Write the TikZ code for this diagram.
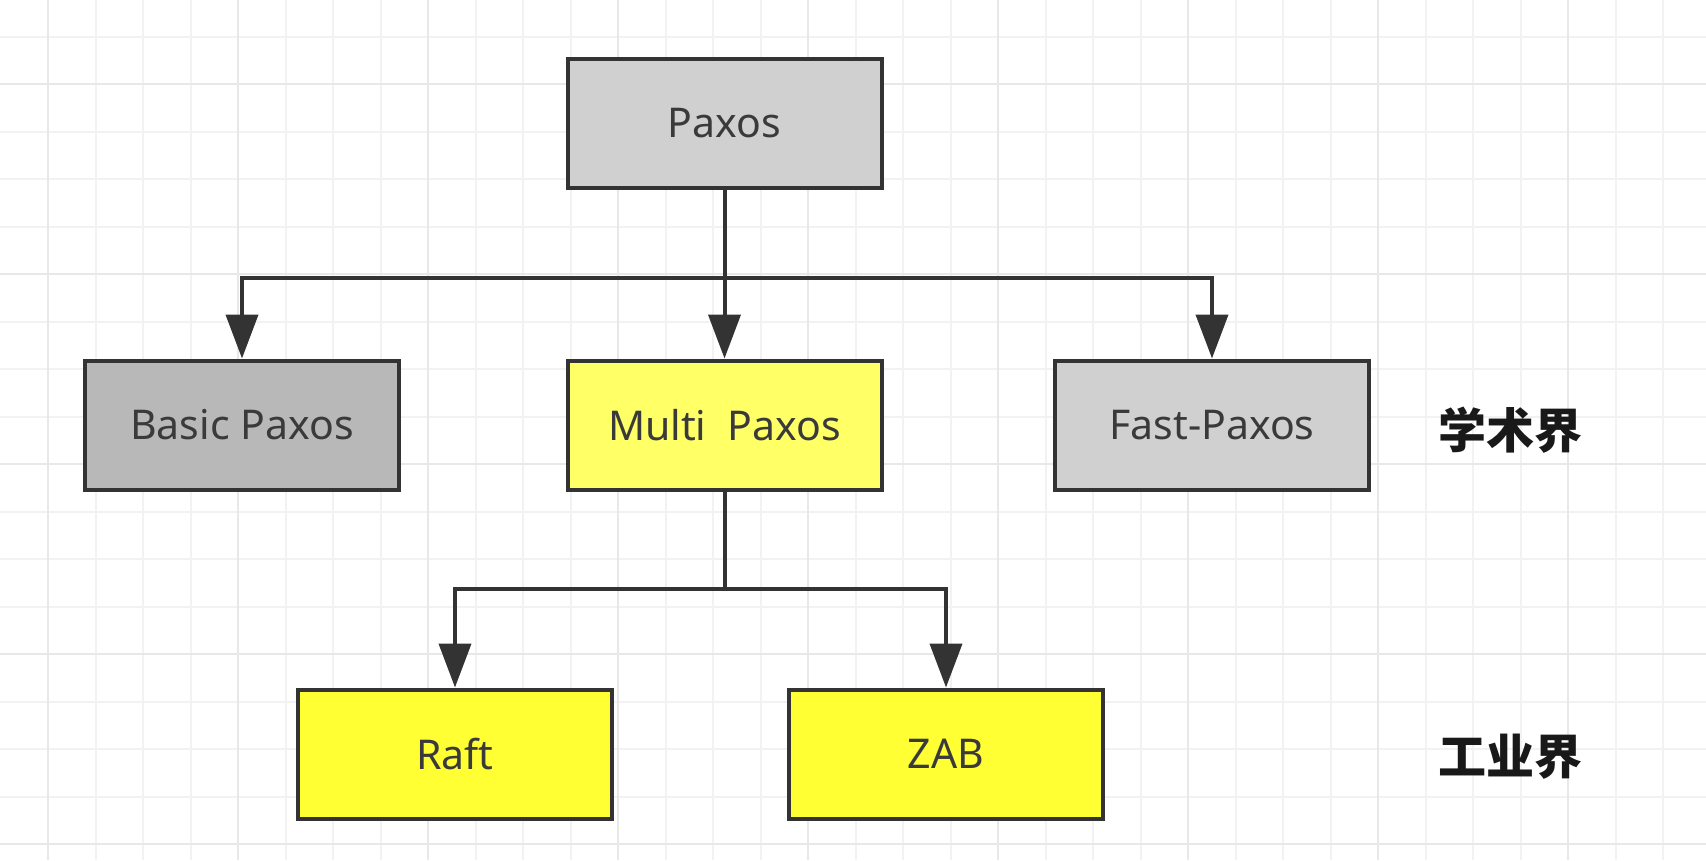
\documentclass[tikz,border=0pt]{standalone}
\usepackage{fontspec}
\setmainfont{Noto Sans}
\newfontfamily\cjk{Noto Sans CJK SC}
\usetikzlibrary{arrows.meta}
\definecolor{minorgrid}{HTML}{F2F2F2}
\definecolor{majorgrid}{HTML}{E8E8E8}
\definecolor{edge}{HTML}{333333}
\definecolor{txt}{HTML}{3A3A3A}
\definecolor{grayA}{HTML}{D0D0D0}
\definecolor{grayB}{HTML}{B8B8B8}
\definecolor{yellowA}{HTML}{FFFF66}
\definecolor{yellowB}{HTML}{FFFF33}
\tikzset{
  box/.style={draw=edge, line width=4pt, minimum width=314pt, minimum height=129pt,
    inner sep=0pt, text=txt, font=\fontsize{41}{48}\selectfont},
  arr/.style={draw=edge, line width=4pt, -{Triangle[width=32pt,length=44pt]}},
  ln/.style={draw=edge, line width=4pt},
  lab/.style={text=black!90, font=\cjk\bfseries\fontsize{48}{54}\selectfont}
}
\begin{document}
\begin{tikzpicture}[x=1pt,y=-1pt]
\useasboundingbox (0,0) rectangle (1706,860);
\fill[white] (0,0) rectangle (1706,860);
% grid
\foreach \i in {0,...,35} {
  \pgfmathsetmacro{\xx}{48+47.5*\i}
  \draw[minorgrid, line width=2pt] (\xx,0) -- (\xx,860);
}
\foreach \i in {-1,...,17} {
  \pgfmathsetmacro{\yy}{36.5+47.5*\i}
  \draw[minorgrid, line width=2pt] (0,\yy) -- (1706,\yy);
}
\foreach \i in {0,...,8} {
  \pgfmathsetmacro{\xx}{48+190*\i}
  \draw[majorgrid, line width=2pt] (\xx,0) -- (\xx,860);
}
\foreach \i in {0,...,4} {
  \pgfmathsetmacro{\yy}{84+190*\i}
  \draw[majorgrid, line width=2pt] (0,\yy) -- (1706,\yy);
}
% nodes
\node[box, fill=grayA] (paxos) at (724.5,123) {Paxos};
\node[box, fill=grayB] (basic) at (242,425) {Basic Paxos};
\node[box, fill=yellowA] (multi) at (724.5,425) {Multi\ \ Paxos};
\node[box, fill=grayA] (fast) at (1212,425) {Fast-Paxos};
\node[box, fill=yellowB] (raft) at (455,754) {Raft};
\node[box, fill=yellowB] (zab) at (946,754) {ZAB};
\node[lab] (acad) at (1510,430) {学术界};
\node[lab] (ind) at (1510,757) {工业界};
% connectors
\coordinate (b1) at (724.5,278);
\coordinate (b2) at (724.5,589);
\draw[arr] (paxos.south) -- (multi.north);
\draw[arr] (b1) -| (basic.north);
\draw[arr] (b1) -| (fast.north);
\draw[ln] (multi.south) -- (b2);
\draw[arr] (b2) -| (raft.north);
\draw[arr] (b2) -| (zab.north);
\end{tikzpicture}
\end{document}
